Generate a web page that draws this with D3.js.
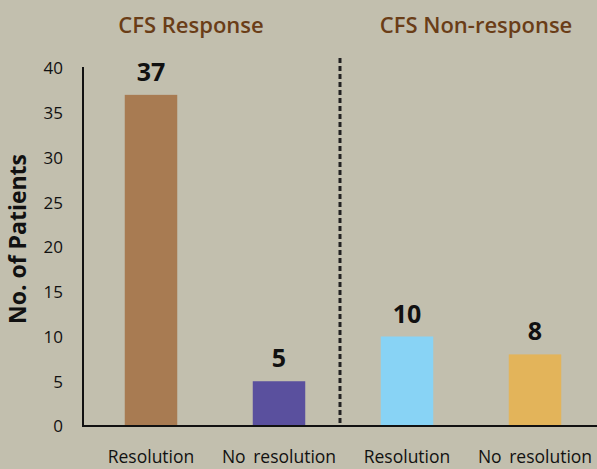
<!DOCTYPE html>
<html><head><meta charset="utf-8">
<script src="https://cdn.jsdelivr.net/npm/d3@7"></script>
<style>
html,body{margin:0;padding:0;background:#c2bfae;}
svg{display:block;font-family:"Open Sans",sans-serif;}
</style></head><body>
<svg id="c" width="597" height="469"></svg>
<script>
const categories = ["Resolution", "No resolution", "Resolution ", "No resolution "];
const labels = ["Resolution", "No resolution", "Resolution", "No resolution"];
const values = [37, 5, 10, 8];
const colors = ["#a87b52", "#5a509e", "#88d3f5", "#e3b45a"];
const groupTitles = ["CFS Response", "CFS Non-response"];
const yTicks = [0, 5, 10, 15, 20, 25, 30, 35, 40];

const svg = d3.select("#c");
const W = 597, H = 469;
svg.append("rect").attr("width", W).attr("height", H).attr("fill", "#c2bfae");

const x = d3.scaleBand().domain(categories).range([87, 599]).paddingInner(0.59).paddingOuter(0.295);
const y = d3.scaleLinear().domain([0, 40]).range([426, 68]);

// bars
svg.selectAll("rect.bar").data(values).join("rect")
  .attr("class", "bar")
  .attr("x", (d, i) => x(categories[i]))
  .attr("width", x.bandwidth())
  .attr("y", d => y(d))
  .attr("height", d => y(0) - y(d))
  .attr("fill", (d, i) => colors[i]);

// value labels
svg.selectAll("text.val").data(values).join("text")
  .attr("class", "val")
  .attr("x", (d, i) => x(categories[i]) + x.bandwidth() / 2)
  .attr("y", d => y(d) - 14)
  .attr("text-anchor", "middle")
  .attr("font-size", 25).attr("font-weight", 700)
  .attr("fill", "#111")
  .text(d => d);

// y axis
const yAxis = d3.axisLeft(y).tickValues(yTicks).tickSize(0).tickPadding(20);
const ga = svg.append("g").attr("transform", `translate(83,0)`).call(yAxis);
ga.select(".domain").attr("stroke", "#111").attr("stroke-width", 2).attr("d", `M0,${y(40) - 1}V${y(0)}`);
ga.selectAll(".tick text").attr("font-size", 17).attr("fill", "#111").attr("font-family", "Open Sans").attr("dy", "0.35em");

// baseline
svg.append("line").attr("x1", 82).attr("x2", W).attr("y1", y(0)).attr("y2", y(0))
  .attr("stroke", "#111").attr("stroke-width", 2);

// x axis labels
const xAxis = d3.axisBottom(x).tickSize(0).tickPadding(25).tickFormat((d, i) => labels[i]);
const gx = svg.append("g").attr("transform", `translate(0,${y(0)})`).call(xAxis);
gx.select(".domain").remove();
gx.selectAll(".tick text").attr("font-size", 17.5).attr("fill", "#111").attr("font-family", "Open Sans").attr("word-spacing", 3);

// dashed separator
const sepX = (x(categories[1]) + x.bandwidth() + x(categories[2])) / 2 - 3;
svg.append("line").attr("x1", sepX).attr("x2", sepX).attr("y1", 58).attr("y2", y(0))
  .attr("stroke", "#222").attr("stroke-width", 3).attr("stroke-dasharray", "5,3");

// group titles
svg.selectAll("text.gt").data(groupTitles).join("text")
  .attr("class", "gt")
  .attr("x", (d, i) => i === 0 ? 191 : 476)
  .attr("y", 33)
  .attr("text-anchor", "middle")
  .attr("font-size", 22).attr("font-weight", 600)
  .attr("fill", "#6a3d17")
  .text(d => d);

// y title
svg.append("text")
  .attr("transform", "translate(26,239) rotate(-90)")
  .attr("text-anchor", "middle")
  .attr("font-size", 23).attr("font-weight", 700)
  .attr("fill", "#111")
  .text("No. of Patients");
</script>
</body></html>
